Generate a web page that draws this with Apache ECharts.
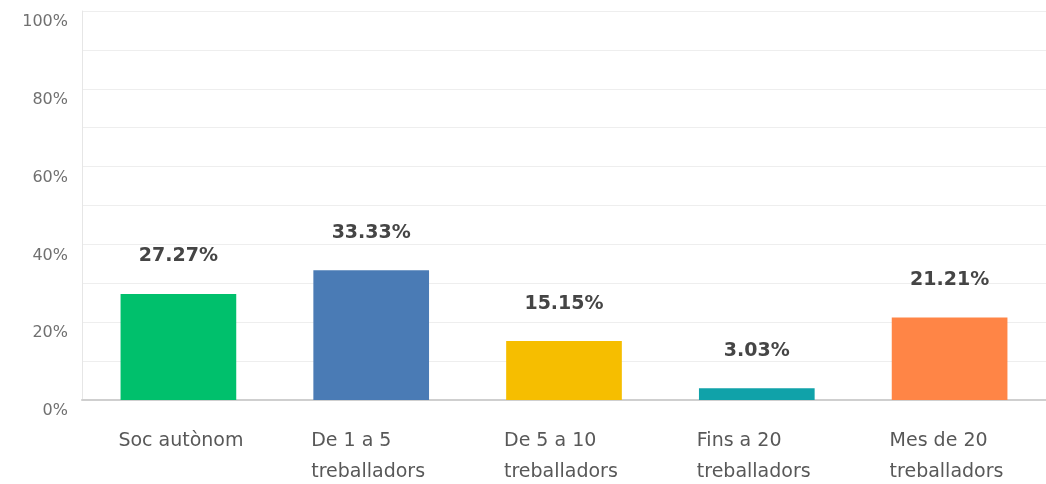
<!DOCTYPE html>
<html>
<head>
<meta charset="utf-8">
<script src="https://cdn.jsdelivr.net/npm/echarts@6/dist/echarts.min.js"></script>
<style>
  html, body { margin: 0; padding: 0; background: #fff; }
  #chart { width: 1046px; height: 484px; }
</style>
</head>
<body>
<div id="chart"></div>
<script>
var categories = ['Soc autònom', 'De 1 a 5\ntreballadors', 'De 5 a 10\ntreballadors', 'Fins a 20\ntreballadors', 'Mes de 20\ntreballadors'];
var values = [27.27, 33.33, 15.15, 3.03, 21.21];
var barColors = ['#00c06c', '#4a7bb5', '#f6be00', '#10a2a9', '#ff8546'];

var myChart = echarts.init(document.getElementById('chart'));

var data = [];
for (var i = 0; i < values.length; i++) {
    data.push({ value: values[i], itemStyle: { color: barColors[i] } });
}

myChart.setOption({
    animation: false,
    grid: { left: 82, width: 970, top: 11, bottom: 84 },
    xAxis: {
        type: 'category',
        data: categories,
        axisTick: { show: false },
        axisLine: { lineStyle: { color: '#cfcfcf', width: 2 } },
        axisLabel: {
            margin: 26,
            formatter: function (v) {
                return v.split('\n').map(function (s) { return '{a|' + s + '}'; }).join('\n');
            },
            rich: {
                a: {
                    width: 120, align: 'left', fontSize: 19, lineHeight: 31,
                    color: '#585858', fontFamily: 'DejaVu Sans'
                }
            }
        }
    },
    yAxis: {
        type: 'value',
        min: 0,
        max: 100,
        interval: 10,
        axisLine: { show: true, lineStyle: { color: '#e6e6e6' } },
        splitLine: { lineStyle: { color: '#eeeeee' } },
        axisLabel: {
            margin: 14,
            color: '#707070',
            fontSize: 16,
            fontFamily: 'DejaVu Sans',
            verticalAlign: 'top',
            lineHeight: 22,
            formatter: function (v) { return v % 20 === 0 ? v + '%' : ''; }
        }
    },
    series: [{
        type: 'bar',
        data: data,
        barWidth: '60%',
        label: {
            show: true,
            position: 'top',
            distance: 28,
            fontSize: 19,
            fontWeight: 'bold',
            fontFamily: 'DejaVu Sans',
            color: '#454545',
            formatter: function (p) { return p.value.toFixed(2) + '%'; }
        }
    }]
});
</script>
</body>
</html>
